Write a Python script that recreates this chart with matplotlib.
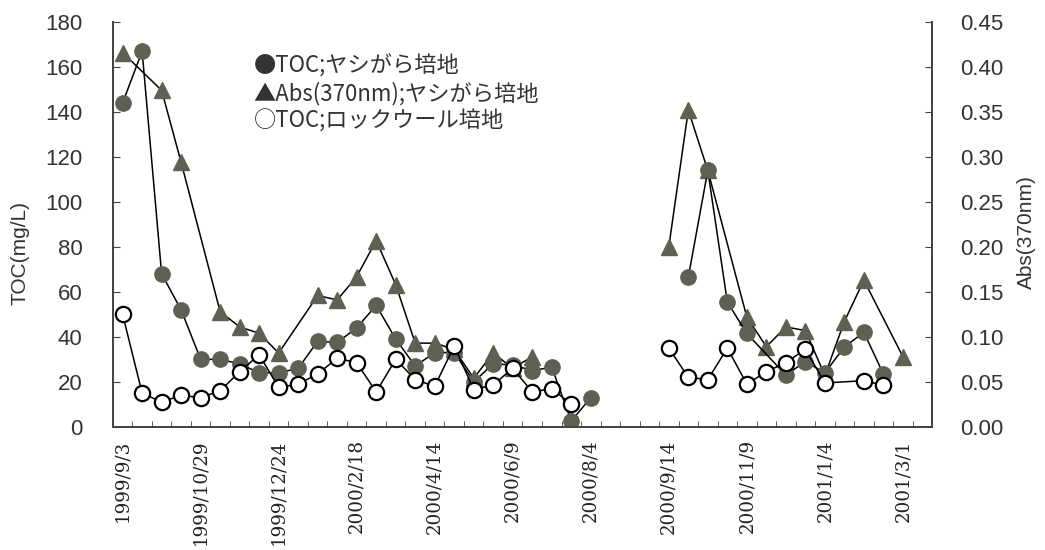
import matplotlib
matplotlib.use("Agg")
import matplotlib.pyplot as plt
import numpy as np
from matplotlib.ticker import FixedLocator, MultipleLocator, FormatStrFormatter

nan = np.nan

# ---- data (category axis, one category per sampling slot) ----
n_cat = 42
date_labels = ["1999/9/3", "1999/10/29", "1999/12/24", "2000/2/18", "2000/4/14",
               "2000/6/9", "2000/8/4", "2000/9/14", "2000/11/9", "2001/1/4", "2001/3/1"]
label_every = 4

toc_coco = [144, 167, 68, 52, 30, 30, 28, 24, 24, 26, 38, 37.5, 44, 54, 39, 27, 33, 33,
            20, 28, 27.5, 25, 26.5, 2.5, 13, nan, nan, nan, nan, 66.5, 114, 55.5, 41.5,
            nan, 23, 29, 24, 35.5, 42, 23.5, nan, nan]
abs_coco = [0.416, nan, 0.374, 0.294, nan, 0.128, 0.111, 0.104, 0.082, nan, 0.146, 0.141,
            0.167, 0.207, 0.158, 0.093, 0.093, 0.086, 0.054, 0.082, 0.065, 0.078, nan, nan,
            nan, nan, nan, nan, 0.20, 0.352, 0.285, nan, 0.122, 0.089, 0.111, 0.107, 0.057,
            0.117, 0.163, nan, 0.078, nan]
toc_rock = [50, 15, 11, 14, 13, 16, 24.5, 32, 17.5, 19, 23.5, 30.5, 28.5, 15.5, 30, 21, 18,
            36, 16.5, 18.7, 26, 15.5, 17, 10, nan, nan, nan, nan, 35, 22, 21, 35, 19, 24.5,
            28.5, 34.5, 19.5, nan, 20.5, 18.5, nan, nan]

# two growing periods, lines are not joined between them
periods = [(0, 25), (28, n_cat)]

legend_lines = ["●TOC;ヤシがら培地", "▲Abs(370nm);ヤシがら培地", "○TOC;ロックウール培地"]

GRAY = "#5d6154"
AXC = "#444444"
SANS = ["Liberation Sans", "DejaVu Sans"]
JP = ["Noto Sans CJK JP", "DejaVu Sans"]


def draw(ax, values, **kw):
    x = np.arange(n_cat)
    y = np.array(values, dtype=float)
    for a, b in periods:
        xs, ys = x[a:b], y[a:b]
        ok = ~np.isnan(ys)
        ax.plot(xs[ok], ys[ok], color="black", lw=1.1, **kw)


fig = plt.figure(figsize=(10.45, 5.5), dpi=100)
ax = fig.add_axes([0.108, 0.224, 0.784, 0.736])
ax2 = ax.twinx()

draw(ax2, abs_coco, marker="^", ms=12, mfc=GRAY, mec=GRAY)
draw(ax, toc_coco, marker="o", ms=11, mfc=GRAY, mec=GRAY)
draw(ax, toc_rock, marker="o", ms=11, mfc="white", mec="black", mew=1.6)

# circles above the triangles
ax.set_zorder(ax2.get_zorder() + 1)
ax.patch.set_visible(False)

ax.set_xlim(-0.5, n_cat - 0.5)
ax.set_ylim(0, 180)
ax2.set_ylim(0, 0.45)

ax.set_xticks(np.arange(len(date_labels)) * label_every)
ax.set_xticklabels(date_labels, rotation=90, family="DejaVu Serif", fontsize=13.2,
                   color="#222222")
ax.xaxis.set_minor_locator(FixedLocator(np.arange(-0.5, n_cat, 1)))
ax.tick_params(axis="x", which="major", length=0, pad=9)
ax.tick_params(axis="x", which="minor", direction="in", length=4, color=AXC)

ax.yaxis.set_major_locator(MultipleLocator(20))
ax.tick_params(axis="y", direction="in", length=5, labelsize=16, color=AXC, pad=22,
               labelcolor="#333333")
for t in ax.get_yticklabels():
    t.set_family(SANS)
ax2.yaxis.set_major_locator(MultipleLocator(0.05))
ax2.yaxis.set_major_formatter(FormatStrFormatter("%.2f"))
ax2.tick_params(axis="y", direction="in", length=5, labelsize=16, color=AXC, pad=20,
                labelcolor="#333333")
for t in ax2.get_yticklabels():
    t.set_family(SANS)

ax.set_ylabel("TOC(mg/L)", family=SANS, fontsize=15, color="#333333")
ax2.set_ylabel("Abs(370nm)", family=SANS, fontsize=15, color="#333333")
ax.yaxis.set_label_coords(-0.102, 0.43)
ax2.yaxis.set_label_coords(1.104, 0.48)

for a in (ax, ax2):
    a.spines["top"].set_visible(False)
    for s in ("left", "right", "bottom"):
        a.spines[s].set_color(AXC)
        a.spines[s].set_linewidth(1.3)

for i, txt in enumerate(legend_lines):
    ax.text(0.172, 0.891 - i * 0.068, txt, transform=ax.transAxes, family=JP,
            fontsize=16, va="center", ha="left", color="#333333")

fig.savefig("out.png", dpi=100)
